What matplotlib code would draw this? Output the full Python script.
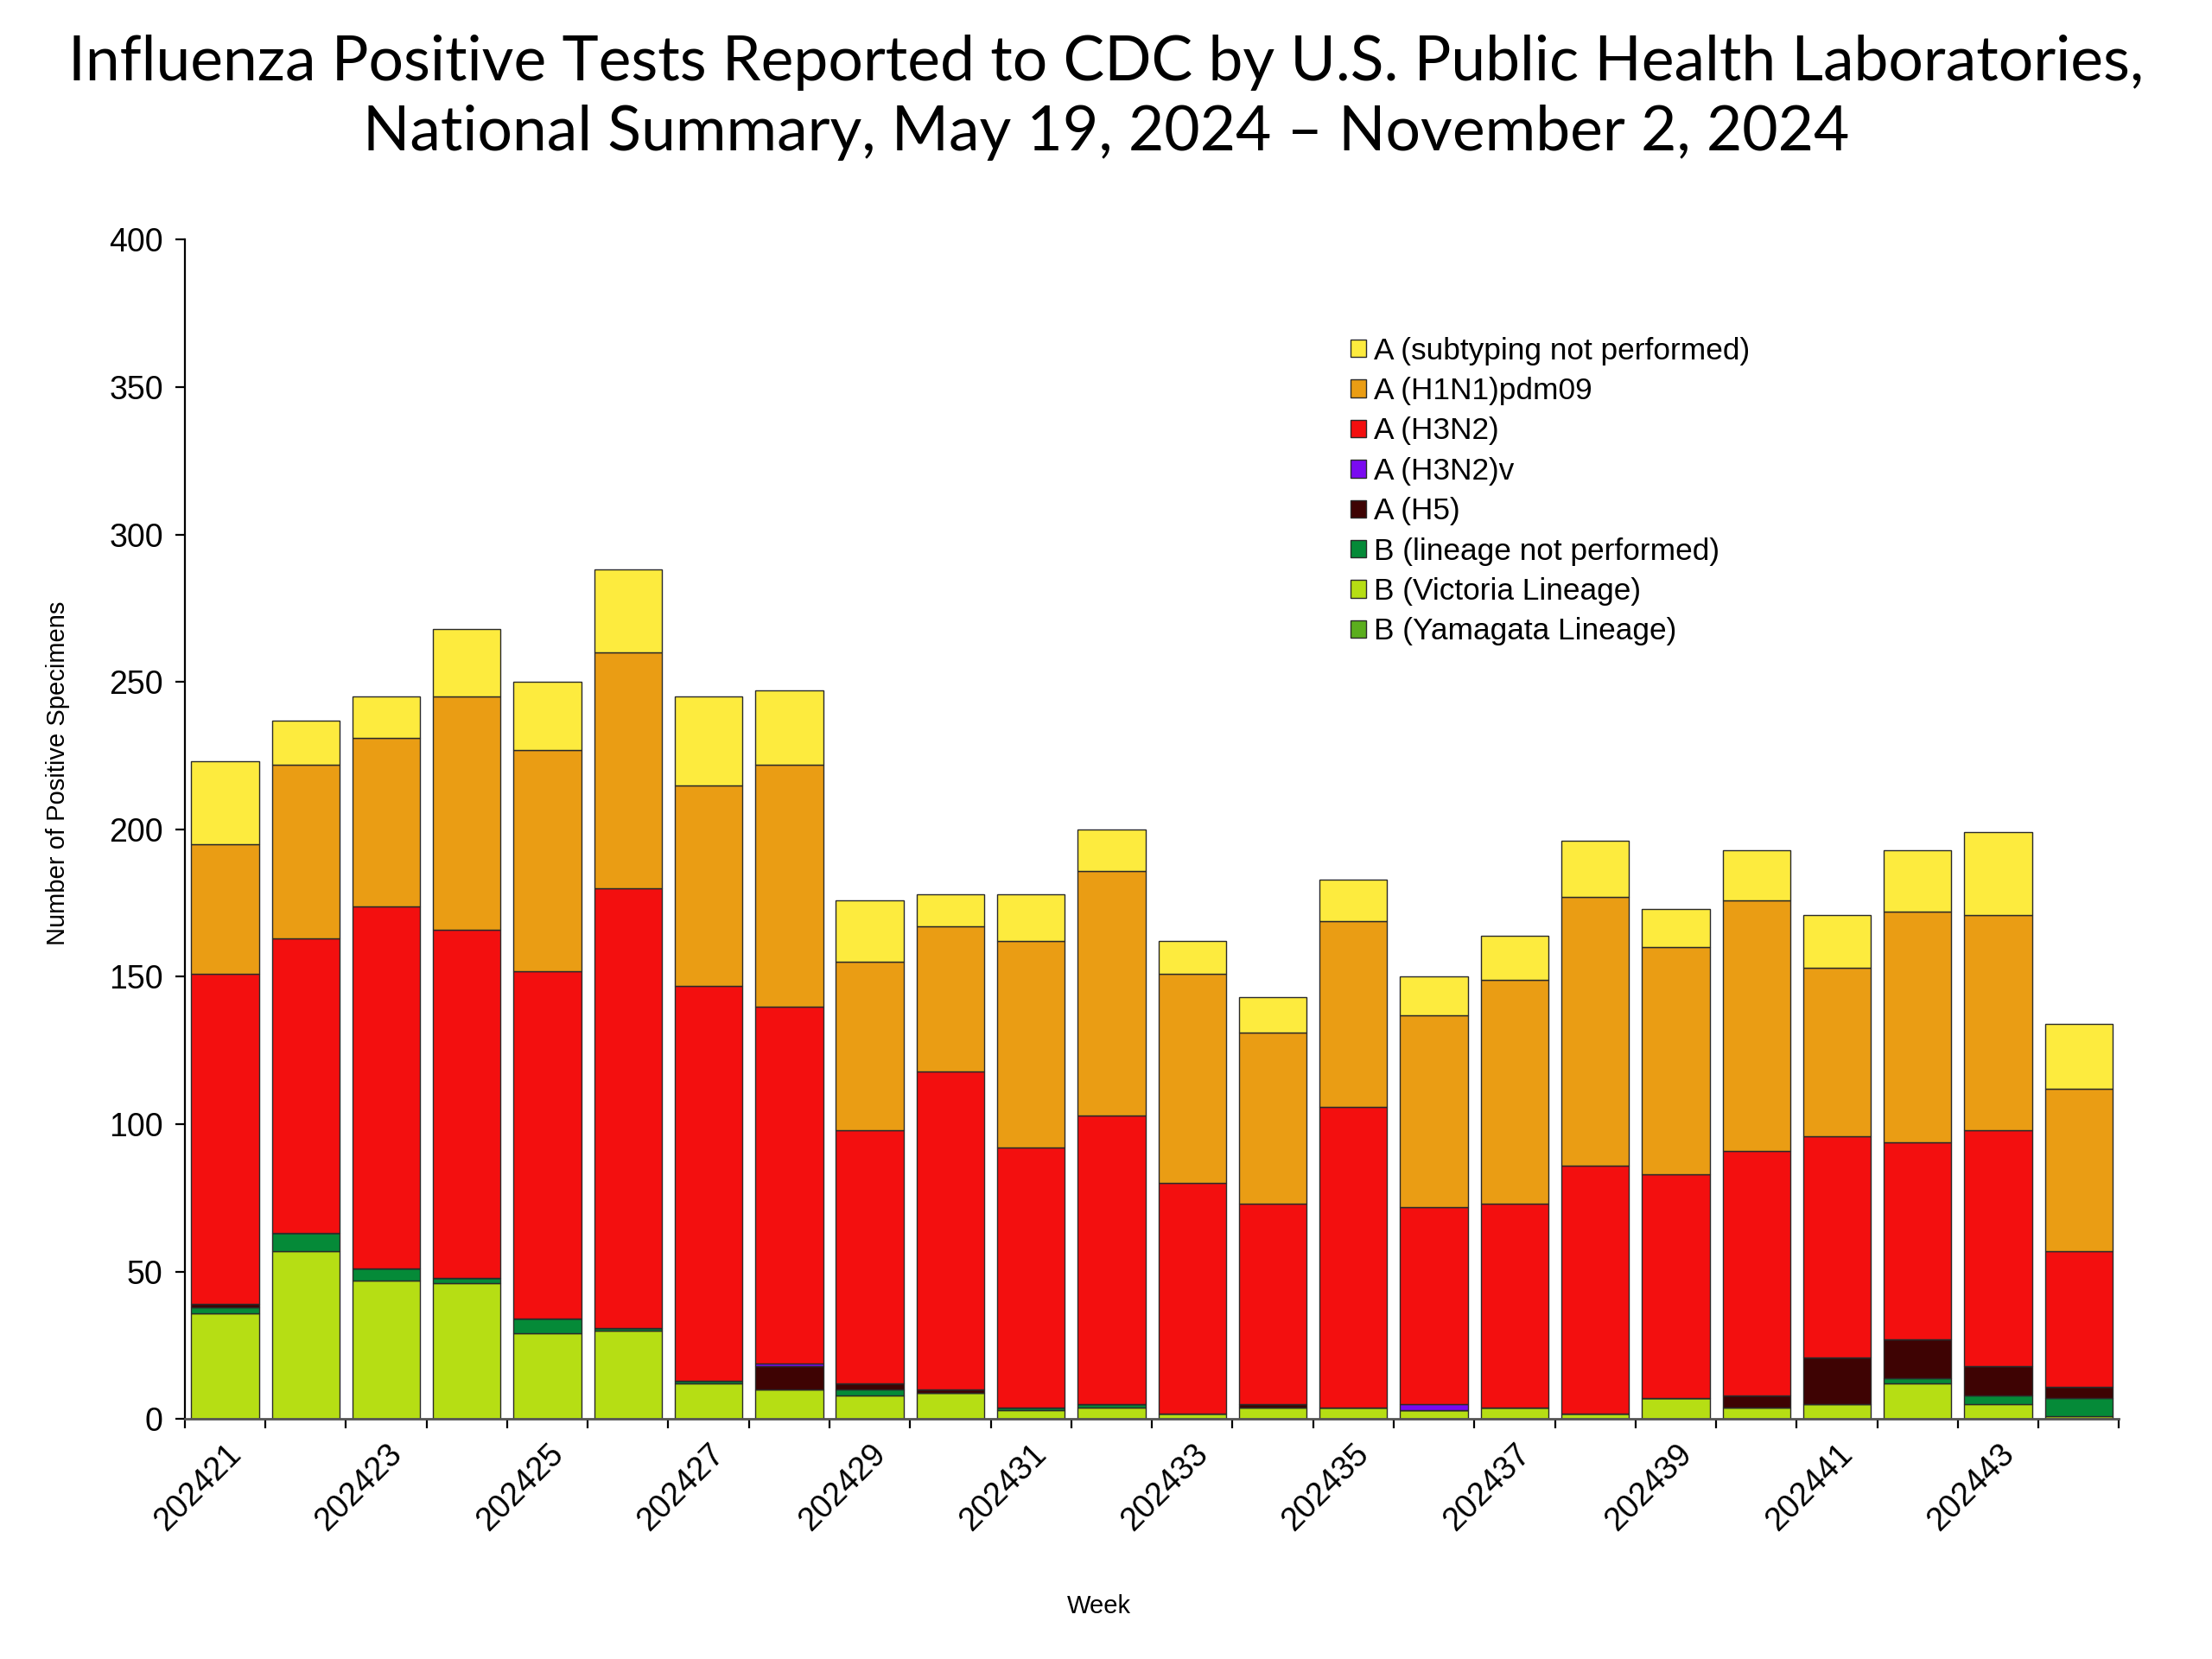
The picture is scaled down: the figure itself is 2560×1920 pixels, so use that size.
import matplotlib
matplotlib.use("Agg")
import matplotlib.pyplot as plt
import numpy as np

weeks = ["202421", "202422", "202423", "202424", "202425", "202426", "202427", "202428",
         "202429", "202430", "202431", "202432", "202433", "202434", "202435", "202436",
         "202437", "202438", "202439", "202440", "202441", "202442", "202443", "202444"]

b_yamagata = [0] * 24
b_victoria = [36, 57, 47, 46, 29, 30, 12, 10, 8, 9, 3, 4, 2, 4, 4, 3, 4, 2, 7, 4, 5, 12, 5, 1]
b_lineage_np = [2, 6, 4, 2, 5, 1, 1, 0, 2, 0, 1, 1, 0, 0, 0, 0, 0, 0, 0, 0, 0, 2, 3, 6]
a_h5 = [1, 0, 0, 0, 0, 0, 0, 8, 2, 1, 0, 0, 0, 1, 0, 0, 0, 0, 0, 4, 16, 13, 10, 4]
a_h3n2v = [0, 0, 0, 0, 0, 0, 0, 1, 0, 0, 0, 0, 0, 0, 0, 2, 0, 0, 0, 0, 0, 0, 0, 0]
a_h3n2 = [112, 100, 123, 118, 118, 149, 134, 121, 86, 108, 88, 98, 78, 68, 102, 67, 69, 84, 76, 83, 75, 67, 80, 46]
a_h1n1 = [44, 59, 57, 79, 75, 80, 68, 82, 57, 49, 70, 83, 71, 58, 63, 65, 76, 91, 77, 85, 57, 78, 73, 55]
a_unsub = [28, 15, 14, 23, 23, 28, 30, 25, 21, 11, 16, 14, 11, 12, 14, 13, 15, 19, 13, 17, 18, 21, 28, 22]

series = [
    ("B (Yamagata Lineage)", b_yamagata, "#5BAE1E"),
    ("B (Victoria Lineage)", b_victoria, "#B6DE14"),
    ("B (lineage not performed)", b_lineage_np, "#058A38"),
    ("A (H5)", a_h5, "#3E0303"),
    ("A (H3N2)v", a_h3n2v, "#7A0AF0"),
    ("A (H3N2)", a_h3n2, "#F30F0F"),
    ("A (H1N1)pdm09", a_h1n1, "#EA9D14"),
    ("A (subtyping not performed)", a_unsub, "#FDEB3E"),
]

plt.rcParams['font.family'] = ['Liberation Sans', 'DejaVu Sans']

fig = plt.figure(figsize=(12.8, 9.6), dpi=200)
ax = fig.add_axes([0.0835, 0.1446, 0.8745, 0.711])

x = np.arange(len(weeks))
bottom = np.zeros(len(weeks))
handles = []
for label, vals, color in series:
    v = np.array(vals, dtype=float)
    h = ax.bar(x, v, width=0.84, bottom=bottom, color=color, edgecolor="#2a2a2a",
               linewidth=0.5, label=label)
    handles.append(h)
    bottom += v

ax.set_xlim(-0.5, len(weeks) - 0.5)
ax.set_ylim(0, 400)
ax.set_yticks(np.arange(0, 401, 50))
ax.tick_params(axis='y', labelsize=13.5, direction='out', length=4, width=0.8, pad=5)

ax.set_xticks(x[::2])
ax.set_xticklabels(weeks[::2], rotation=45, ha='right', va='top', rotation_mode='anchor', fontsize=13.5)
ax.set_xticks(np.arange(-0.5, len(weeks)), minor=True)
ax.tick_params(axis='x', which='major', length=0, pad=8)
ax.tick_params(axis='x', which='minor', length=4, width=0.8, direction='out')

for s in ['top', 'right']:
    ax.spines[s].set_visible(False)
ax.spines['left'].set_linewidth(0.8)
ax.spines['bottom'].set_linewidth(1.0)
ax.spines['bottom'].set_color('#555555')

fig.text(0.026, 0.534, "Number of Positive Specimens", rotation=90, ha='center', va='center', fontsize=10.5)
fig.text(0.497, 0.032, "Week", ha='center', va='center', fontsize=10.5)

fig.text(0.5, 0.962, "Influenza Positive Tests Reported to CDC by U.S. Public Health Laboratories,",
         ha='center', va='center', fontsize=25.7, family=['Lato', 'DejaVu Sans'])
fig.text(0.5, 0.920, "National Summary, May 19, 2024 \u2013 November 2, 2024",
         ha='center', va='center', fontsize=25.7, family=['Lato', 'DejaVu Sans'])

leg = ax.legend(handles=handles[::-1], loc='upper left', bbox_to_anchor=(0.5964, 0.928),
                frameon=False, fontsize=12.7, handlelength=0.51, handleheight=0.51,
                handletextpad=0.25, labelspacing=0.38, borderaxespad=0)

fig.savefig("out.png", dpi=200, facecolor='white')
